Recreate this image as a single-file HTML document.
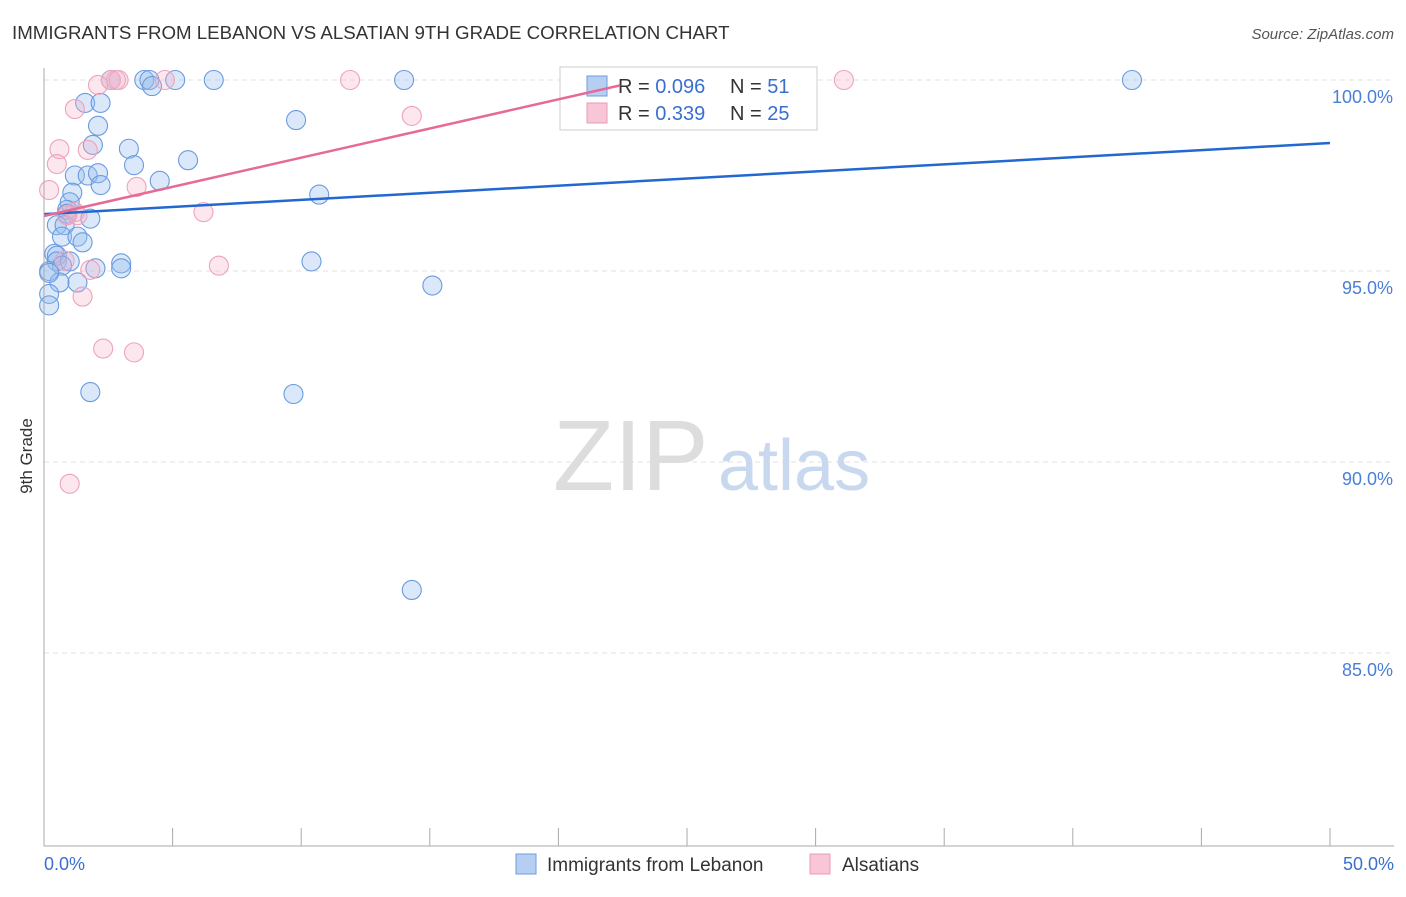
<!DOCTYPE html>
<html><head><meta charset="utf-8"><style>
body{margin:0;background:#fff;font-family:"Liberation Sans",sans-serif;}
svg text{font-family:"Liberation Sans",sans-serif;}
</style></head><body>
<svg width="1406" height="892">
<text x="12" y="39" font-size="18.7" fill="#333">IMMIGRANTS FROM LEBANON VS ALSATIAN 9TH GRADE CORRELATION CHART</text>
<text x="1394" y="39" font-size="15" fill="#555" text-anchor="end" font-style="italic">Source: ZipAtlas.com</text>
<g id="grid"></g>
<text x="553" y="490" font-size="100" fill="#ddd" font-family="Liberation Serif">ZIP</text>
<text x="718" y="490" font-size="72" fill="#c8d8ee">atlas</text>
<g id="pts"></g>
<g>
<rect x="560" y="67" width="257" height="63" fill="#fff" fill-opacity="0.75" stroke="#ccc"/>
<rect x="587" y="76" width="20" height="20" fill="#b5cff3" stroke="#6f9be0"/>
<rect x="587" y="103" width="20" height="20" fill="#f8c6d6" stroke="#e99ab4"/>
<text x="618" y="93" font-size="20" fill="#333">R = <tspan fill="#3a6fd0">0.096</tspan></text>
<text x="730" y="93" font-size="20" fill="#333">N = <tspan fill="#3a6fd0">51</tspan></text>
<text x="618" y="120" font-size="20" fill="#333">R = <tspan fill="#3a6fd0">0.339</tspan></text>
<text x="730" y="120" font-size="20" fill="#333">N = <tspan fill="#3a6fd0">25</tspan></text>
</g>
<g id="lines"></g>
<line x1="44" y1="68" x2="44" y2="846" stroke="#aaa"/>
<line x1="44" y1="846" x2="1394" y2="846" stroke="#aaa"/>
<text x="32" y="456" font-size="17" fill="#333" transform="rotate(-90 32 456)" text-anchor="middle">9th Grade</text>
<text x="44" y="870" font-size="18" fill="#3a6fd0">0.0%</text>
<text x="1394" y="870" font-size="18" fill="#3a6fd0" text-anchor="end">50.0%</text>
<g>
<rect x="516" y="854" width="20" height="20" fill="#b5cff3" stroke="#6f9be0"/>
<text x="547" y="871" font-size="19" fill="#333">Immigrants from Lebanon</text></g>
<g>
<rect x="810" y="854" width="20" height="20" fill="#f8c6d6" stroke="#e99ab4"/>
<text x="842" y="871" font-size="19" fill="#333">Alsatians</text></g>
</svg>
<script>
const yTicks=[100,95,90,85];
const xTicks=[0,5,10,15,20,25,30,35,40,45,50];
const blueX=[2.6,3.9,4.1,5.1,6.6,14.0,42.3,4.2,1.6,2.2,2.1,9.8,1.9,3.3,3.5,5.6,1.2,1.7,2.1,2.2,4.5,10.7,1.1,1.0,0.9,0.9,1.8,0.5,0.8,0.7,1.3,1.5,0.4,0.5,0.5,1.0,0.7,3.0,3.0,2.0,10.4,0.2,1.3,0.6,15.1,0.2,0.2,1.8,9.7,14.3,0.2];
const blueY=[100,100,100,100,100,100,100,99.84,99.4,99.4,98.8,98.95,98.3,98.2,97.77,97.9,97.5,97.5,97.56,97.25,97.36,97.0,97.05,96.8,96.6,96.5,96.37,96.2,96.2,95.9,95.9,95.75,95.45,95.4,95.25,95.25,95.14,95.2,95.07,95.07,95.25,95.0,94.7,94.7,94.62,94.4,94.1,91.83,91.78,86.65,94.95];
const pinkX=[2.6,2.8,2.9,2.1,4.7,11.9,31.1,1.2,14.3,0.6,1.7,0.5,0.2,3.6,1.2,6.2,0.9,1.3,0.8,1.8,6.8,1.5,2.3,3.5,1.0];
const pinkY=[100,100,100,99.87,100,100,100,99.24,99.06,98.19,98.17,97.8,97.12,97.2,96.54,96.54,96.46,96.46,95.27,95.03,95.14,94.33,92.97,92.87,89.43];
const blueLine=[[0,96.49],[50,98.35]];
const pinkLine=[[0,96.44],[22.4,99.86]];
const ns="http://www.w3.org/2000/svg";
const X=v=>44+v*25.72, Y=v=>80+(100-v)*38.2;
const grid=document.getElementById('grid');
function mk(t,a,p){const e=document.createElementNS(ns,t);for(const k in a)e.setAttribute(k,a[k]);p.appendChild(e);return e;}
yTicks.forEach(v=>{
 const l=mk('line',{x1:44,x2:1394,y1:Y(v),y2:Y(v),stroke:'#e2e2e2','stroke-dasharray':'5,4'},grid);
 
 
 const t=mk('text',{x:1393,y:Y(v)+23,'font-size':18,fill:'#4a7fd8','text-anchor':'end'},grid);
 t.textContent=v.toFixed(1)+'%';
 
 
});
xTicks.forEach(v=>{
 const l=mk('line',{x1:X(v),x2:X(v),y1:828,y2:846,stroke:'#aaa'},grid);
 
 
});
const pts=document.getElementById('pts');
blueX.forEach((x,i)=>{
 const c=mk('circle',{cx:X(x),cy:Y(blueY[i]),r:9.5,fill:'rgba(150,188,238,0.35)',stroke:'#6a9be0','stroke-width':1.1},pts);
 
 
});
pinkX.forEach((x,i)=>{
 const c=mk('circle',{cx:X(x),cy:Y(pinkY[i]),r:9.5,fill:'rgba(245,175,198,0.3)',stroke:'#eea3bb','stroke-width':1.1},pts);
 
 
});
const lines=document.getElementById('lines');
const bl=mk('line',{x1:X(blueLine[0][0]),y1:Y(blueLine[0][1]),x2:X(blueLine[1][0]),y2:Y(blueLine[1][1]),stroke:'#2268d0','stroke-width':2.5},lines);


const pl=mk('line',{x1:X(pinkLine[0][0]),y1:Y(pinkLine[0][1]),x2:X(pinkLine[1][0]),y2:Y(pinkLine[1][1]),stroke:'#e66a95','stroke-width':2.5},lines);


</script>
</body></html>
